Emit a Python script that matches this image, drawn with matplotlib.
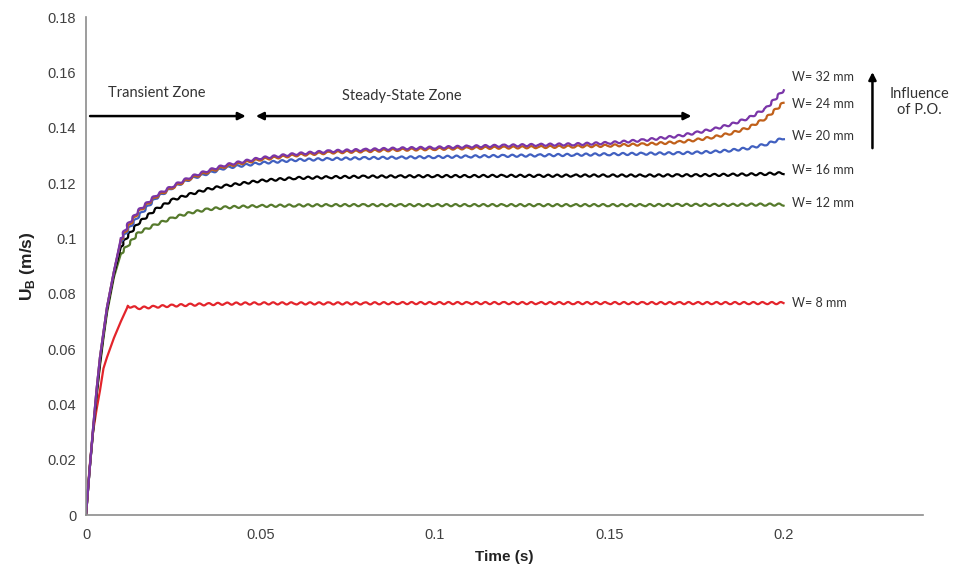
import matplotlib
matplotlib.use('Agg')
import matplotlib.pyplot as plt

plt.rcParams['font.family'] = ['Liberation Sans', 'DejaVu Sans']
plt.rcParams['mathtext.fontset'] = 'custom'
plt.rcParams['mathtext.rm'] = 'Liberation Sans'
plt.rcParams['mathtext.bf'] = 'Liberation Sans:bold'

# time grid (s)
time = [0, 0.001, 0.002, 0.003, 0.004, 0.005, 0.006, 0.008, 0.010, 0.012,
        0.015, 0.02, 0.025, 0.03, 0.035, 0.04, 0.05, 0.06, 0.07, 0.08,
        0.09, 0.1, 0.11, 0.12, 0.13, 0.14, 0.15, 0.16, 0.17, 0.175,
        0.18, 0.185, 0.19, 0.195, 0.2]

# U_B (m/s)
w32 = [0, 0.016, 0.031, 0.045, 0.057, 0.066, 0.075, 0.088, 0.100, 0.105,
       0.110, 0.1155, 0.119, 0.1222, 0.1245, 0.1265, 0.129, 0.1305, 0.1315, 0.132,
       0.1325, 0.1328, 0.1332, 0.1335, 0.1338, 0.134, 0.1345, 0.1355, 0.137, 0.1382,
       0.1395, 0.1412, 0.1435, 0.147, 0.1536]
w24 = [0, 0.016, 0.031, 0.045, 0.057, 0.066, 0.075, 0.088, 0.0995, 0.104,
       0.1095, 0.115, 0.1185, 0.1217, 0.124, 0.126, 0.1285, 0.130, 0.131, 0.1315,
       0.132, 0.1323, 0.1326, 0.1328, 0.133, 0.1332, 0.1335, 0.134, 0.1348, 0.1356,
       0.1366, 0.138, 0.140, 0.1435, 0.149]
w20 = [0, 0.016, 0.031, 0.045, 0.057, 0.066, 0.075, 0.088, 0.099, 0.103,
       0.108, 0.1145, 0.1185, 0.1215, 0.1235, 0.1255, 0.1272, 0.1283, 0.1287, 0.129,
       0.1292, 0.1294, 0.1296, 0.1298, 0.130, 0.1302, 0.1304, 0.1306, 0.1308, 0.131,
       0.1313, 0.1318, 0.1326, 0.134, 0.1362]
w16 = [0, 0.016, 0.030, 0.043, 0.055, 0.065, 0.074, 0.087, 0.097, 0.101,
       0.1055, 0.1105, 0.114, 0.116, 0.1178, 0.119, 0.1208, 0.1218, 0.1221, 0.1223,
       0.1224, 0.1225, 0.1225, 0.1226, 0.1226, 0.1227, 0.1227, 0.1227, 0.1228, 0.1228,
       0.1229, 0.123, 0.1231, 0.1233, 0.1236]
w12 = [0, 0.016, 0.030, 0.043, 0.054, 0.064, 0.073, 0.086, 0.0945, 0.0975,
       0.102, 0.105, 0.1075, 0.1093, 0.1105, 0.1112, 0.1117, 0.1119, 0.112, 0.112,
       0.112, 0.112, 0.112, 0.112, 0.112, 0.112, 0.112, 0.112, 0.1121, 0.1121,
       0.1121, 0.1121, 0.1122, 0.1122, 0.1122]
w8 = [0, 0.017, 0.030, 0.038, 0.045, 0.053, 0.057, 0.064, 0.070, 0.0755,
      0.0748, 0.0753, 0.0757, 0.076, 0.0762, 0.0764, 0.0765, 0.0765, 0.0765, 0.0765,
      0.0766, 0.0766, 0.0766, 0.0766, 0.0766, 0.0766, 0.0766, 0.0766, 0.0766, 0.0766,
      0.0766, 0.0766, 0.0766, 0.0766, 0.0766]

series = [w8, w12, w16, w20, w24, w32]
labels = ['W= 8 mm', 'W= 12 mm', 'W= 16 mm', 'W= 20 mm', 'W= 24 mm', 'W= 32 mm']
colors = ['#e3242b', '#567a2c', '#000000', '#4160c0', '#c0601a', '#7a35a8']
label_y = [0.0766, 0.1128, 0.1247, 0.137, 0.1485, 0.1583]
# index where the start-up rise ends and the oscillating part begins
knee = [9, 8, 8, 8, 8, 8]

fig = plt.figure(figsize=(9.57, 5.75), dpi=100)
ax = fig.add_axes([0.0899, 0.1043, 0.8746, 0.8661])

for vals, col, k in zip(series, colors, knee):
    # smooth start-up rise, then the wavy steady part
    ax.plot(time[:k + 1], vals[:k + 1], color=col, lw=1.6, solid_joinstyle='round')
    ln, = ax.plot(time[k:], vals[k:], color=col, lw=1.6, solid_joinstyle='round')
    ln.set_sketch_params(scale=1.1, length=9, randomness=1)

for lab, y in zip(labels, label_y):
    ax.text(0.2023, y, lab, fontsize=9, color='#333333', va='center', ha='left',
            family=['Lato', 'DejaVu Sans'])

ax.set_xlim(0, 0.24)
ax.set_ylim(0, 0.18)
ax.set_xticks([0, 0.05, 0.1, 0.15, 0.2])
ax.set_xticklabels(['0', '0.05', '0.1', '0.15', '0.2'])
ax.set_yticks([0, 0.02, 0.04, 0.06, 0.08, 0.1, 0.12, 0.14, 0.16, 0.18])
ax.set_yticklabels(['0', '0.02', '0.04', '0.06', '0.08', '0.1', '0.12', '0.14', '0.16', '0.18'])
ax.tick_params(length=0, labelsize=10.5, labelcolor='#404040')
ax.tick_params(axis='y', pad=7)
ax.tick_params(axis='x', pad=9)
for s in ['top', 'right']:
    ax.spines[s].set_visible(False)
for s in ['left', 'bottom']:
    ax.spines[s].set_color('#8c8c8c')
    ax.spines[s].set_linewidth(1.2)

ax.set_xlabel('Time (s)', fontsize=11, fontweight='bold', color='#222222', labelpad=6)
ax.set_ylabel(r'$\mathbf{U}_\mathbf{B}$ (m/s)', fontsize=12.5, fontweight='bold',
              color='#222222', labelpad=8)

arrow = dict(arrowstyle='-|>', color='black', lw=1.8, mutation_scale=11, shrinkA=0, shrinkB=0)
ax.annotate('', xy=(0.0458, 0.1442), xytext=(0.00115, 0.1442), arrowprops=arrow)
ax.annotate('', xy=(0.0487, 0.1442), xytext=(0.1736, 0.1442),
            arrowprops=dict(arrowstyle='<|-|>', color='black', lw=1.8, mutation_scale=11,
                            shrinkA=0, shrinkB=0))
ax.annotate('', xy=(0.2255, 0.1601), xytext=(0.2255, 0.1326), arrowprops=arrow, annotation_clip=False)

ann_font = ['Lato', 'DejaVu Sans']
ax.text(0.0203, 0.1525, 'Transient Zone', fontsize=10.5, color='#333333', ha='center', va='center', family=ann_font)
ax.text(0.0905, 0.1514, 'Steady-State Zone', fontsize=10.5, color='#333333', ha='center', va='center', family=ann_font)
ax.text(0.239, 0.1493, 'Influence\nof P.O.', fontsize=10.5, color='#333333', ha='center', va='center',
        linespacing=1.25, family=ann_font, clip_on=False)

fig.savefig('out.png', dpi=100)
